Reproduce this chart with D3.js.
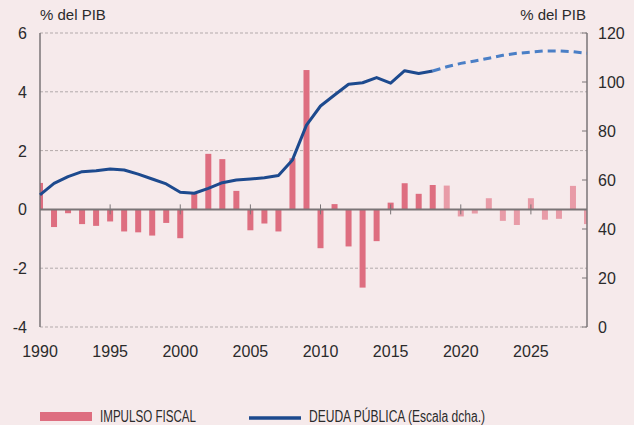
<html>
  <head>
    <script src="https://d3js.org/d3.v7.min.js"></script>
    <style type="text/css">
      body { margin: 0; background-color: #f6eaeb; }
      svg text { font-family: "Liberation Sans", Arial, sans-serif; fill: #2b2b2b; }
      .legend text { font-family: "Liberation Sans Narrow", "Liberation Sans", Arial, sans-serif; }
    </style>
  </head>
  <body>
    <svg id="chart" width=634 height=425></svg>
  </body>

  <script type="text/javascript">

    // years shown on the chart
    var years = d3.range(1990, 2030);

    // impulso fiscal, % del PIB (left scale)
    var impulso = [0.9, -0.6, -0.13, -0.5, -0.56, -0.41, -0.75, -0.78, -0.89, -0.46,
                   -0.98, 0.55, 1.89, 1.71, 0.63, -0.71, -0.48, -0.75, 1.74, 4.74,
                   -1.32, 0.18, -1.26, -2.66, -1.08, 0.23, 0.89, 0.53, 0.83, 0.81,
                   -0.24, -0.14, 0.38, -0.39, -0.53, 0.38, -0.35, -0.32, 0.8, -0.5];

    // deuda publica, % del PIB (right scale)
    var deuda = [53.9, 58.6, 61.4, 63.4, 63.8, 64.5, 64.1, 62.4, 60.4, 58.4,
                 55.0, 54.6, 56.6, 58.9, 60.0, 60.4, 60.9, 61.8, 68.2, 82.4,
                 90.2, 94.7, 99.1, 99.7, 101.8, 99.5, 104.6, 103.5, 104.5, 106.2,
                 107.6, 108.6, 109.7, 110.9, 111.7, 112.2, 112.7, 112.7, 112.4, 111.7];

    var firstForecast = 2019;
    var leftTicks = [-4, -2, 0, 2, 4, 6];
    var rightTicks = [0, 20, 40, 60, 80, 100, 120];
    var yearTicks = [1990, 1995, 2000, 2005, 2010, 2015, 2020, 2025];

    var svg = d3.select("#chart");
    var m = {left: 40, right: 587, top: 33, bottom: 327};

    var x = d3.scaleLinear().domain([1990, 2029]).range([m.left, m.right]);
    var y = d3.scaleLinear().domain([-4, 6]).range([m.bottom, m.top]);
    var y2 = d3.scaleLinear().domain([0, 120]).range([m.bottom, m.top]);

    // dashed grid
    svg.append("g").selectAll("line")
      .data(leftTicks.filter(function(d) { return d != 0; }))
      .enter().append("line")
      .attr("x1", m.left).attr("x2", m.right)
      .attr("y1", function(d) { return y(d); })
      .attr("y2", function(d) { return y(d); })
      .attr("stroke", "#b3aaab")
      .attr("stroke-width", 1)
      .attr("stroke-dasharray", "3,2");

    // clip so the half bars at the ends stay inside
    svg.append("clipPath").attr("id", "plot")
      .append("rect").attr("x", m.left).attr("y", 0)
      .attr("width", m.right - m.left).attr("height", 425);

    var barW = 6;
    svg.append("g").attr("clip-path", "url(#plot)")
      .selectAll("rect")
      .data(years)
      .enter().append("rect")
      .attr("x", function(d) { return x(d) - barW / 2; })
      .attr("width", barW)
      .attr("y", function(d, i) { return y(Math.max(0, impulso[i])); })
      .attr("height", function(d, i) { return Math.abs(y(impulso[i]) - y(0)); })
      .attr("fill", function(d) { return d >= firstForecast ? "#e89ba7" : "#de6e80"; });

    // zero line
    svg.append("line")
      .attr("x1", m.left).attr("x2", m.right)
      .attr("y1", y(0)).attr("y2", y(0))
      .attr("stroke", "#7a7577").attr("stroke-width", 2);

    // year ticks crossing the zero line
    svg.append("g").selectAll("line")
      .data(yearTicks.slice(1))
      .enter().append("line")
      .attr("x1", function(d) { return x(d); })
      .attr("x2", function(d) { return x(d); })
      .attr("y1", y(0) - 5).attr("y2", y(0) + 5)
      .attr("stroke", "#7a7577").attr("stroke-width", 1);

    // axes lines
    svg.append("line").attr("x1", m.left).attr("x2", m.left)
      .attr("y1", m.top).attr("y2", m.bottom)
      .attr("stroke", "#7a7577").attr("stroke-width", 1.5);
    svg.append("line").attr("x1", m.right).attr("x2", m.right)
      .attr("y1", m.top).attr("y2", m.bottom)
      .attr("stroke", "#7a7577").attr("stroke-width", 1.5);

    // right axis ticks (inside)
    svg.append("g").selectAll("line")
      .data(rightTicks)
      .enter().append("line")
      .attr("x1", m.right - 5).attr("x2", m.right)
      .attr("y1", function(d) { return y2(d); })
      .attr("y2", function(d) { return y2(d); })
      .attr("stroke", "#7a7577").attr("stroke-width", 1);

    // debt line: solid history, dashed forecast
    var pts = years.map(function(d, i) { return [d, deuda[i]]; });
    var line = d3.line()
      .x(function(d) { return x(d[0]); })
      .y(function(d) { return y2(d[1]); });

    svg.append("path")
      .datum(pts.filter(function(d) { return d[0] <= 2018; }))
      .attr("fill", "none")
      .attr("stroke", "#1d4a8e")
      .attr("stroke-width", 3)
      .attr("stroke-linejoin", "round")
      .attr("d", line);

    svg.append("path")
      .datum(pts.filter(function(d) { return d[0] >= 2018; }))
      .attr("fill", "none")
      .attr("stroke", "#4a7fc6")
      .attr("stroke-width", 3)
      .attr("stroke-dasharray", "8,5")
      .attr("d", line);

    // labels
    svg.append("g").selectAll("text")
      .data(leftTicks)
      .enter().append("text")
      .attr("x", 27).attr("y", function(d) { return y(d) + 6; })
      .attr("text-anchor", "end")
      .style("font-size", "16px")
      .text(function(d) { return d; });

    svg.append("g").selectAll("text")
      .data(rightTicks)
      .enter().append("text")
      .attr("x", 598).attr("y", function(d) { return y2(d) + 6; })
      .style("font-size", "16px")
      .text(function(d) { return d; });

    svg.append("g").selectAll("text")
      .data(yearTicks)
      .enter().append("text")
      .attr("x", function(d) { return x(d); }).attr("y", 357)
      .attr("text-anchor", "middle")
      .style("font-size", "16px")
      .text(function(d) { return d; });

    svg.append("text").attr("x", 40).attr("y", 20)
      .style("font-size", "15px").text("% del PIB");
    svg.append("text").attr("x", 586).attr("y", 20)
      .attr("text-anchor", "end")
      .style("font-size", "15px").text("% del PIB");

    // legend
    var lg = svg.append("g").attr("class", "legend");
    lg.append("rect").attr("x", 40).attr("y", 412).attr("width", 52).attr("height", 9)
      .attr("fill", "#de6e80");
    lg.append("text").attr("x", 100).attr("y", 422)
      .style("font-size", "16px")
      .attr("textLength", 96).attr("lengthAdjust", "spacingAndGlyphs")
      .text("IMPULSO FISCAL");
    lg.append("line").attr("x1", 249).attr("x2", 301).attr("y1", 418).attr("y2", 418)
      .attr("stroke", "#1d4a8e").attr("stroke-width", 3.5);
    lg.append("text").attr("x", 309).attr("y", 422)
      .style("font-size", "16px")
      .attr("textLength", 176).attr("lengthAdjust", "spacingAndGlyphs")
      .text("DEUDA PÚBLICA (Escala dcha.)");

  </script>
</html>
